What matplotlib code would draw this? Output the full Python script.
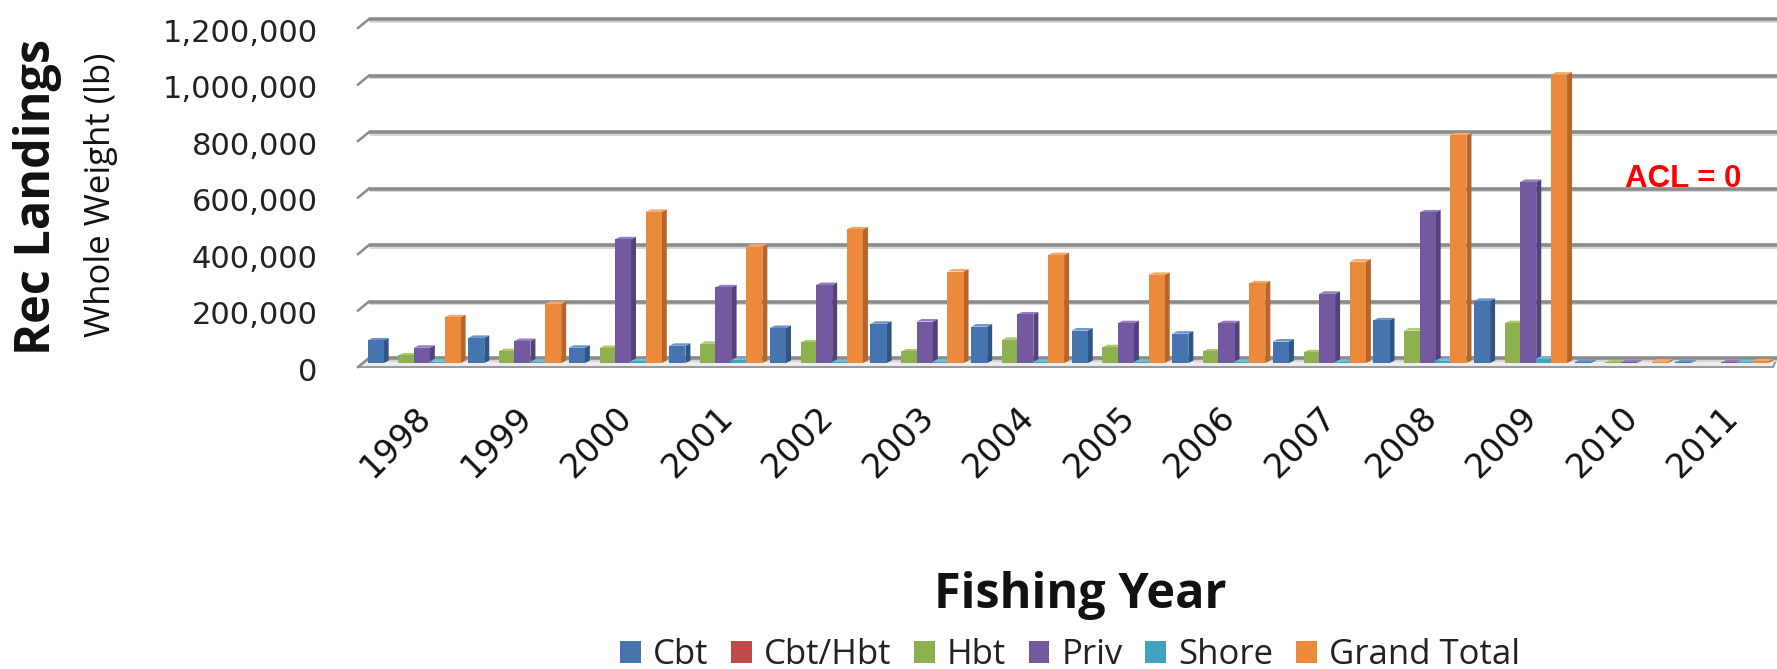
import matplotlib
matplotlib.use("Agg")
import matplotlib.pyplot as plt
from matplotlib.patches import Polygon, Patch
from matplotlib.transforms import ScaledTranslation
import numpy as np

# ---------------- data (lb) ----------------
years = ["1998", "1999", "2000", "2001", "2002", "2003", "2004",
         "2005", "2006", "2007", "2008", "2009", "2010", "2011"]
series_names = ["Cbt", "Cbt/Hbt", "Hbt", "Priv", "Shore", "Grand Total"]
cbt = [80000, 89000, 54000, 61000, 124000, 139000, 129000,
       115000, 104000, 76000, 151000, 220000, 3000, 2000]
cbt_hbt = [0, 0, 0, 0, 0, 0, 0, 0, 0, 0, 0, 0, 0, 0]
hbt = [27000, 42000, 53000, 68000, 73000, 41000, 82000,
       56000, 41000, 38000, 115000, 141000, 2000, 0]
priv = [54000, 78000, 438000, 268000, 276000, 147000, 172000,
        141000, 141000, 245000, 533000, 641000, 2000, 2000]
shore = [5000, 4000, 6000, 10000, 3000, 4000, 3000,
         3000, 4000, 3000, 8000, 15000, 0, 2000]
grand_total = [162000, 209000, 535000, 412000, 473000, 324000, 382000,
               312000, 282000, 359000, 806000, 1021000, 5000, 6000]
y_ticks = [0, 200000, 400000, 600000, 800000, 1000000, 1200000]

series_values = [cbt, cbt_hbt, hbt, priv, shore, grand_total]

front_colors = ["#4674AE", "#BE4B48", "#8DB051", "#7459A0", "#43A3BE", "#EC8A3C"]
side_colors = ["#2F5585", "#8E3330", "#6A8838", "#54407A", "#2E7C92", "#B9642A"]
top_colors = ["#6A93C8", "#D46B68", "#A9C870", "#947BBD", "#6CC0D6", "#F5A865"]

# ---------------- figure ----------------
W, H = 1777, 669
fig = plt.figure(figsize=(W / 100, H / 100), dpi=100)
ax = fig.add_axes([0.2015, 0.4496, 0.7985, 0.5283])
x_lo, x_hi = -0.557, 13.55
y_lo, y_hi = -36e3, 1.215e6
ax.set_xlim(x_lo, x_hi)
ax.set_ylim(y_lo, y_hi)
for s in ax.spines.values():
    s.set_visible(False)

px_x = 1 / 100.6                 # data units per pixel (x)
px_y = 1 / 2.825e-4              # data units per pixel (y)
x_wall = x_lo + 11 * px_x
wall_drop = 9 * px_y

# floor
floor = Polygon([(x_wall, 0), (x_hi, 0), (x_hi - 4 * px_x, -wall_drop), (x_lo, -wall_drop)],
                closed=True, facecolor="#ededed", edgecolor="#9a9a9a", lw=1.5, zorder=1)
ax.add_patch(floor)

# gridlines with the 3D wall edge
for v in y_ticks:
    ax.plot([x_wall, x_hi], [v - 1.6 * px_y, v - 1.6 * px_y], color="#d4d4d4", lw=2.0,
            zorder=1.5, solid_capstyle="butt")
    ax.plot([x_wall, x_hi], [v, v], color="#8c8c8c", lw=2.6, zorder=1.6,
            solid_capstyle="butt")
    ax.plot([x_lo, x_wall], [v - wall_drop, v], color="#8c8c8c", lw=1.8, zorder=1.6,
            clip_on=False)

# bars with pseudo-3D faces (placed mid-depth on the floor -> shifted down a little)
depth_shift = ax.transData + ScaledTranslation(0, -5 / 100, fig.dpi_scale_trans)
slot = 0.153
bw = 0.16
dx = 5 * px_x
dy = 2.5 * px_y
x_idx = np.arange(len(years))
for k, vals in enumerate(series_values):
    pos = x_idx + (k - 2.5) * slot
    vals_arr = np.array(vals, dtype=float)
    bars = ax.bar(pos, vals_arr, width=bw, color=front_colors[k], edgecolor="none")
    for i, (patch, v) in enumerate(zip(bars.patches, vals_arr)):
        z = 3 + 0.01 * (i * 6 + k)
        patch.set_zorder(z)
        patch.set_transform(depth_shift)
        if v <= 0:
            patch.set_visible(False)
            continue
        x0 = patch.get_x()
        x1 = x0 + patch.get_width()
        side = Polygon([(x1, 0), (x1 + dx, dy), (x1 + dx, v + dy), (x1, v)],
                       closed=True, facecolor=side_colors[k], edgecolor="none",
                       zorder=z - 0.001, transform=depth_shift)
        top = Polygon([(x0, v), (x1, v), (x1 + dx, v + dy), (x0 + dx, v + dy)],
                      closed=True, facecolor=top_colors[k], edgecolor="none",
                      zorder=z - 0.001, transform=depth_shift)
        ax.add_patch(side)
        ax.add_patch(top)

# axes ticks
ax.set_yticks(y_ticks)
ax.set_yticklabels([f"{v:,}" for v in y_ticks], fontsize=22, color="#222222",
                   family="DejaVu Sans")
ax.tick_params(axis="y", length=0, pad=29)
shift = ScaledTranslation(0, -11 / 100, fig.dpi_scale_trans)
for lab in ax.get_yticklabels():
    lab.set_transform(lab.get_transform() + shift)

ax.set_xticks(x_idx)
ax.set_xticklabels(years, fontsize=24, color="#111111", rotation=45, ha="right",
                   va="top", rotation_mode="anchor", family="DejaVu Sans")
ax.tick_params(axis="x", length=0, pad=23)

# titles
fig.text(50 / W, 1 - 197 / H, "Rec Landings", rotation=90, ha="center", va="baseline",
         rotation_mode="anchor", fontsize=35, fontweight="bold", family="Open Sans",
         color="#111111")
fig.text(110 / W, 1 - 195 / H, "Whole Weight (lb)", rotation=90, ha="center", va="baseline",
         rotation_mode="anchor", fontsize=25, family="Open Sans", color="#111111")
fig.text(1080 / W, 1 - 608 / H, "Fishing Year", ha="center", va="baseline",
         fontsize=35, fontweight="bold", family="Open Sans", color="#111111")
fig.text(1683 / W, 1 - 187 / H, "ACL = 0", ha="center", va="baseline",
         fontsize=22.5, fontweight="bold", family="Liberation Sans", color="#FF0000")

# legend
handles = [Patch(facecolor=c, edgecolor="none") for c in front_colors]
fig.legend(handles, series_names, loc="center", bbox_to_anchor=(1070 / W, 1 - 655 / H),
           ncol=6, frameon=False, handlelength=0.6, handleheight=0.6,
           handletextpad=0.35, columnspacing=0.65,
           prop={"family": "Open Sans", "size": 25})
for t in fig.legends[0].get_texts():
    t.set_color("#222222")

fig.savefig("out.png", dpi=100)
